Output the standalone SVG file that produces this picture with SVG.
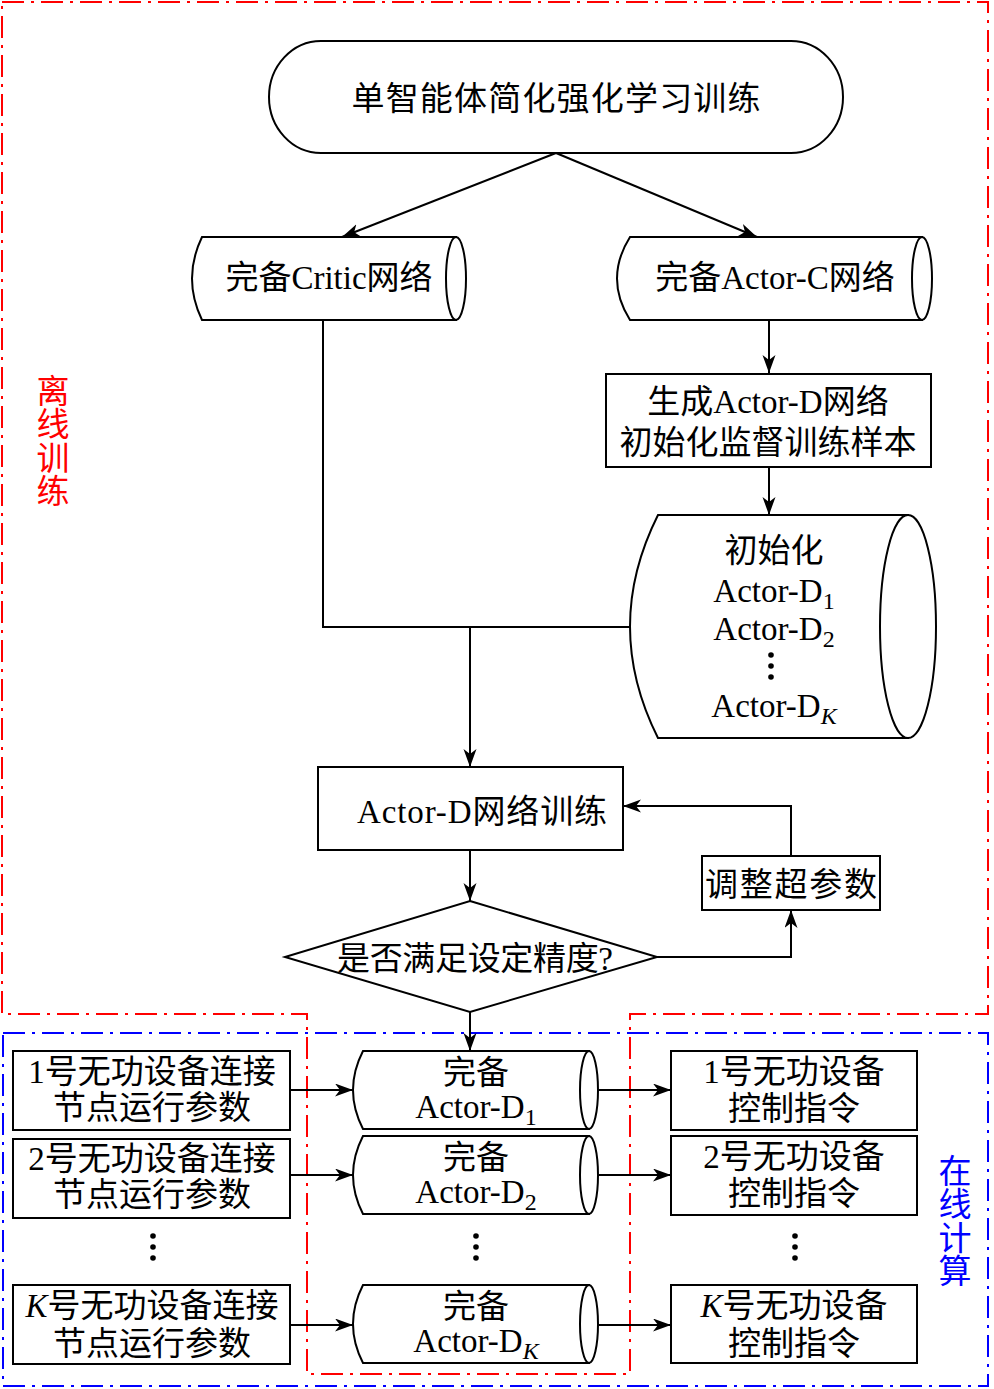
<svg xmlns="http://www.w3.org/2000/svg" width="994" height="1389" viewBox="0 0 994 1389">
<style>
.s{fill:#fff;stroke:#000;stroke-width:2}
.c{fill:none;stroke:#000;stroke-width:2}
.t{font-family:"Liberation Serif","Noto Sans CJK SC",serif;font-size:33px;fill:#000}
.m{text-anchor:middle}
.sub{font-size:24px}
.i{font-style:italic}
.dot{fill:#000}
</style>
<defs>
<marker id="ah" markerUnits="userSpaceOnUse" markerWidth="19" markerHeight="14" refX="18" refY="6.5" orient="auto">
<path d="M0,0 L18,6.5 L0,13 L5,6.5 Z" fill="#000"/>
</marker>
</defs>
<g id="regions">
<path d="M2,2 H988 V1014 H630 V1374 H307 V1014 H2 Z" fill="none" stroke="#ff0000" stroke-width="2" stroke-dasharray="22 7 3 7"/>
<rect x="3" y="1033" width="985" height="353" fill="none" stroke="#0000ff" stroke-width="2" stroke-dasharray="22 7 3 7"/>
<text class="t m" x="53" y="403" style="fill:#ff0000">离</text>
<text class="t m" x="53" y="436" style="fill:#ff0000">线</text>
<text class="t m" x="53" y="470" style="fill:#ff0000">训</text>
<text class="t m" x="53" y="503" style="fill:#ff0000">练</text>
<text class="t m" x="955" y="1183" style="fill:#0000ff">在</text>
<text class="t m" x="955" y="1216" style="fill:#0000ff">线</text>
<text class="t m" x="955" y="1250" style="fill:#0000ff">计</text>
<text class="t m" x="955" y="1283" style="fill:#0000ff">算</text>
</g>
<g id="connectors">
<line class="c" x1="556" y1="153" x2="342" y2="237" marker-end="url(#ah)"/>
<line class="c" x1="556" y1="153" x2="757" y2="237" marker-end="url(#ah)"/>
<line class="c" x1="769" y1="320" x2="769" y2="373" marker-end="url(#ah)"/>
<line class="c" x1="769" y1="467" x2="769" y2="515" marker-end="url(#ah)"/>
<polyline class="c" points="323,320 323,627 630,627"/>
<line class="c" x1="470" y1="627" x2="470" y2="767" marker-end="url(#ah)"/>
<line class="c" x1="470" y1="850" x2="470" y2="901" marker-end="url(#ah)"/>
<polyline class="c" points="791,856 791,806 623,806" marker-end="url(#ah)"/>
<polyline class="c" points="657,957 791,957 791,910" marker-end="url(#ah)"/>
<line class="c" x1="470" y1="1012" x2="470" y2="1051" marker-end="url(#ah)"/>
<line class="c" x1="290" y1="1090" x2="353" y2="1090" marker-end="url(#ah)"/>
<line class="c" x1="290" y1="1175" x2="353" y2="1175" marker-end="url(#ah)"/>
<line class="c" x1="290" y1="1325" x2="353" y2="1325" marker-end="url(#ah)"/>
<line class="c" x1="599" y1="1090" x2="671" y2="1090" marker-end="url(#ah)"/>
<line class="c" x1="599" y1="1175" x2="671" y2="1175" marker-end="url(#ah)"/>
<line class="c" x1="599" y1="1325" x2="671" y2="1325" marker-end="url(#ah)"/>
</g>
<g id="start">
<rect class="s" x="269" y="41" width="574" height="112" rx="52" ry="56"/>
<text class="t m" x="556" y="110" textLength="409">单智能体简化强化学习训练</text>
</g>
<g id="critic">
<path class="s" d="M202,237 H456 V320 H202 Q182,278.5 202,237 Z"/>
<ellipse class="s" cx="456" cy="278.5" rx="10" ry="41.5"/>
<text class="t m" x="329" y="289">完备Critic网络</text>
</g>
<g id="actorc">
<path class="s" d="M630,237 H922 V320 H630 Q604,278.5 630,237 Z"/>
<ellipse class="s" cx="922" cy="278.5" rx="10" ry="41.5"/>
<text class="t m" x="775" y="289">完备Actor-C网络</text>
</g>
<g id="gen">
<rect class="s" x="606" y="374" width="325" height="93"/>
<text class="t m" x="768" y="413">生成Actor-D网络</text>
<text class="t m" x="768" y="454">初始化监督训练样本</text>
</g>
<g id="init">
<path class="s" d="M658,515 H908 V738 H658 Q602,626.5 658,515 Z"/>
<ellipse class="s" cx="908" cy="626.5" rx="28" ry="111.5"/>
<text class="t m" x="774" y="562">初始化</text>
<text class="t m" x="774" y="602">Actor-D<tspan class="sub" dy="7">1</tspan></text>
<text class="t m" x="774" y="640">Actor-D<tspan class="sub" dy="7">2</tspan></text>
<circle class="dot" cx="771" cy="655" r="2.8"/>
<circle class="dot" cx="771" cy="666" r="2.8"/>
<circle class="dot" cx="771" cy="677" r="2.8"/>
<text class="t m" x="774" y="717">Actor-D<tspan class="sub i" dy="7">K</tspan></text>
</g>
<g id="train">
<rect class="s" x="318" y="767" width="305" height="83"/>
<text class="t" x="357" y="823" textLength="250">Actor-D网络训练</text>
</g>
<g id="tune">
<rect class="s" x="702" y="856" width="178" height="54"/>
<text class="t m" x="791" y="896" textLength="172">调整超参数</text>
</g>
<g id="decision">
<polygon class="s" points="470,901 657,957 470,1012 285,957"/>
<text class="t m" x="475" y="970" textLength="276">是否满足设定精度?</text>
</g>
<g id="in1">
<rect class="s" x="13" y="1051" width="277" height="79"/>
<text class="t m" x="152" y="1083">1号无功设备连接</text>
<text class="t m" x="152" y="1119">节点运行参数</text>
</g>
<g id="in2">
<rect class="s" x="13" y="1139" width="277" height="79"/>
<text class="t m" x="152" y="1170">2号无功设备连接</text>
<text class="t m" x="152" y="1206">节点运行参数</text>
</g>
<g id="indots">
<circle class="dot" cx="153" cy="1236" r="2.8"/>
<circle class="dot" cx="153" cy="1247" r="2.8"/>
<circle class="dot" cx="153" cy="1258" r="2.8"/>
</g>
<g id="inK">
<rect class="s" x="13" y="1285" width="277" height="79"/>
<text class="t m" x="152" y="1317"><tspan class="i">K</tspan>号无功设备连接</text>
<text class="t m" x="152" y="1355">节点运行参数</text>
</g>
<g id="d1">
<path class="s" d="M363,1051 H589 V1129 H363 Q343,1090 363,1051 Z"/>
<ellipse class="s" cx="589" cy="1090" rx="9" ry="39"/>
<text class="t m" x="476" y="1084">完备</text>
<text class="t m" x="476" y="1118">Actor-D<tspan class="sub" dy="7">1</tspan></text>
</g>
<g id="d2">
<path class="s" d="M363,1136 H589 V1214 H363 Q343,1175 363,1136 Z"/>
<ellipse class="s" cx="589" cy="1175" rx="9" ry="39"/>
<text class="t m" x="476" y="1169">完备</text>
<text class="t m" x="476" y="1203">Actor-D<tspan class="sub" dy="7">2</tspan></text>
</g>
<g id="ddots">
<circle class="dot" cx="476" cy="1236" r="2.8"/>
<circle class="dot" cx="476" cy="1247" r="2.8"/>
<circle class="dot" cx="476" cy="1258" r="2.8"/>
</g>
<g id="dK">
<path class="s" d="M363,1285 H589 V1363 H363 Q343,1324 363,1285 Z"/>
<ellipse class="s" cx="589" cy="1324" rx="9" ry="39"/>
<text class="t m" x="476" y="1318">完备</text>
<text class="t m" x="476" y="1352">Actor-D<tspan class="sub i" dy="7">K</tspan></text>
</g>
<g id="out1">
<rect class="s" x="671" y="1051" width="246" height="79"/>
<text class="t m" x="794" y="1083">1号无功设备</text>
<text class="t m" x="794" y="1120">控制指令</text>
</g>
<g id="out2">
<rect class="s" x="671" y="1136" width="246" height="79"/>
<text class="t m" x="794" y="1168">2号无功设备</text>
<text class="t m" x="794" y="1205">控制指令</text>
</g>
<g id="outdots">
<circle class="dot" cx="795" cy="1236" r="2.8"/>
<circle class="dot" cx="795" cy="1247" r="2.8"/>
<circle class="dot" cx="795" cy="1258" r="2.8"/>
</g>
<g id="outK">
<rect class="s" x="671" y="1285" width="246" height="78"/>
<text class="t m" x="794" y="1317"><tspan class="i">K</tspan>号无功设备</text>
<text class="t m" x="794" y="1355">控制指令</text>
</g>
</svg>
